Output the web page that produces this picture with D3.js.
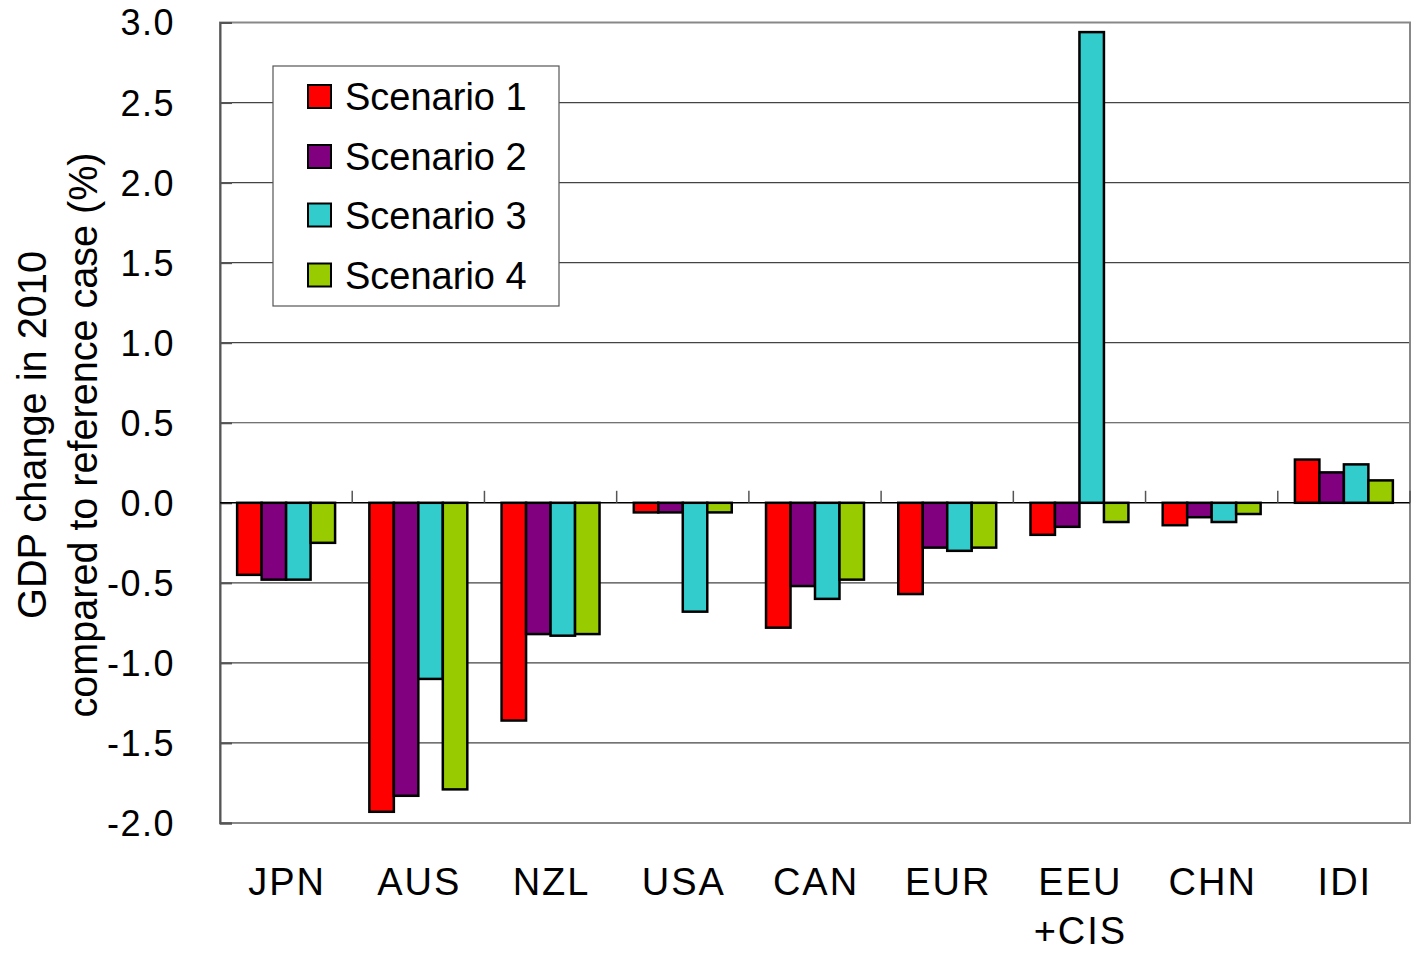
<!DOCTYPE html>
<html>
<head>
<meta charset="utf-8">
<script src="https://cdn.jsdelivr.net/npm/d3@7"></script>
<style>
  body { margin: 0; background: #fff; }
  svg { display: block; }
  text { font-family: "Liberation Sans", Arial, sans-serif; fill: #000; }
</style>
</head>
<body>
<svg id="chart" width="1418" height="957"></svg>
<script>
const categories = ["JPN", "AUS", "NZL", "USA", "CAN", "EUR", "EEU\n+CIS", "CHN", "IDI"];
const seriesNames = ["Scenario 1", "Scenario 2", "Scenario 3", "Scenario 4"];
const scenario1 = [-0.45, -1.93, -1.36, -0.06, -0.78, -0.57, -0.20, -0.14, 0.27];
const scenario2 = [-0.48, -1.83, -0.82, -0.06, -0.52, -0.28, -0.15, -0.09, 0.19];
const scenario3 = [-0.48, -1.10, -0.83, -0.68, -0.60, -0.30, 2.94, -0.12, 0.24];
const scenario4 = [-0.25, -1.79, -0.82, -0.06, -0.48, -0.28, -0.12, -0.07, 0.14];
const colors = ["#ff0000", "#800080", "#33cccc", "#99cc00"];
const yTicks = [-2.0, -1.5, -1.0, -0.5, 0.0, 0.5, 1.0, 1.5, 2.0, 2.5, 3.0];

const series = [scenario1, scenario2, scenario3, scenario4];
const svg = d3.select("#chart");
const m = { left: 220, right: 1410, top: 22.5, bottom: 823 };

const x = d3.scaleBand().domain(categories).range([m.left, m.right]).paddingInner(0).paddingOuter(0);
const inner = d3.scaleBand().domain(d3.range(4)).range([0, x.bandwidth()]).paddingInner(0).paddingOuter(0.7);
const y = d3.scaleLinear().domain([-2, 3]).range([m.bottom, m.top]);

// gridlines
svg.append("g").selectAll("line").data(yTicks.filter(d => d !== 0 && d !== 3 && d !== -2)).join("line")
  .attr("x1", m.left).attr("x2", m.right)
  .attr("y1", d => y(d)).attr("y2", d => y(d))
  .attr("stroke", "#444").attr("stroke-width", 1.2);

// plot border
svg.append("rect").attr("x", m.left).attr("y", m.top)
  .attr("width", m.right - m.left).attr("height", m.bottom - m.top)
  .attr("fill", "none").attr("stroke", "#888").attr("stroke-width", 2);

// left axis
const yAxis = d3.axisRight(y).tickValues(yTicks).tickSize(12).tickFormat("");
const gy = svg.append("g").attr("transform", `translate(${m.left},0)`).call(yAxis);
gy.select(".domain").attr("stroke", "#555").attr("stroke-width", 2);
gy.selectAll(".tick line").attr("stroke", "#555").attr("stroke-width", 2);

// y tick labels
svg.append("g").selectAll("text").data(yTicks).join("text")
  .attr("x", 175).attr("y", d => y(d))
  .attr("dy", "0.36em")
  .attr("text-anchor", "end")
  .style("font-size", "36px").style("letter-spacing", "1.5px")
  .text(d => d.toFixed(1));

// bars
const groups = svg.append("g").selectAll("g").data(categories).join("g")
  .attr("transform", d => `translate(${x(d)},0)`);
groups.selectAll("rect").data((c, ci) => series.map((s, si) => ({ si, v: s[ci] }))).join("rect")
  .attr("x", d => inner(d.si))
  .attr("width", inner.bandwidth())
  .attr("y", d => y(Math.max(0, d.v)))
  .attr("height", d => Math.abs(y(d.v) - y(0)))
  .attr("fill", d => colors[d.si])
  .attr("stroke", "#000").attr("stroke-width", 2.5);

// zero axis line + ticks at category boundaries
svg.append("line").attr("x1", m.left).attr("x2", m.right)
  .attr("y1", y(0)).attr("y2", y(0)).attr("stroke", "#000").attr("stroke-width", 1.5);
const boundaries = categories.slice(1).map(c => x(c)).concat([m.right]);
svg.append("g").selectAll("line").data(boundaries).join("line")
  .attr("x1", d => d).attr("x2", d => d)
  .attr("y1", y(0) - 12).attr("y2", y(0))
  .attr("stroke", "#555").attr("stroke-width", 1.5);

// x labels
const xl = svg.append("g").selectAll("text").data(categories).join("text")
  .attr("x", d => x(d) + x.bandwidth() / 2 + 1)
  .attr("y", 895)
  .attr("text-anchor", "middle")
  .style("font-size", "38px").style("letter-spacing", "2px");
xl.each(function(d) {
  const lines = d.split("\n");
  d3.select(this).selectAll("tspan").data(lines).join("tspan")
    .attr("x", x(d) + x.bandwidth() / 2 + 1)
    .attr("dy", (l, i) => i === 0 ? 0 : 49)
    .text(l => l);
});

// y axis title
const title = svg.append("text")
  .attr("transform", "translate(0,435) rotate(-90)")
  .attr("text-anchor", "middle")
  .style("font-family", "'Liberation Sans Narrow', 'Arial Narrow', sans-serif")
  .style("font-size", "40px");
title.append("tspan").attr("x", 0).attr("y", 46).attr("textLength", 368).attr("lengthAdjust", "spacingAndGlyphs").text("GDP change in 2010");
title.append("tspan").attr("x", 0).attr("y", 97).attr("textLength", 565).attr("lengthAdjust", "spacingAndGlyphs").text("compared to reference case (%)");

// legend
const lg = svg.append("g");
lg.append("rect").attr("x", 273).attr("y", 66).attr("width", 286).attr("height", 240)
  .attr("fill", "#fff").attr("stroke", "#555").attr("stroke-width", 1.2);
const rowsY = [96.5, 156.5, 215, 275];
const items = lg.selectAll("g.item").data(seriesNames).join("g").attr("class", "item")
  .attr("transform", (d, i) => `translate(0,${rowsY[i]})`);
items.append("rect").attr("x", 308).attr("y", -11.5).attr("width", 23).attr("height", 23)
  .attr("fill", (d, i) => colors[i]).attr("stroke", "#000").attr("stroke-width", 2);
items.append("text").attr("x", 345).attr("y", 0).attr("dy", "0.36em")
  .style("font-size", "38px").text(d => d);
</script>
</body>
</html>
